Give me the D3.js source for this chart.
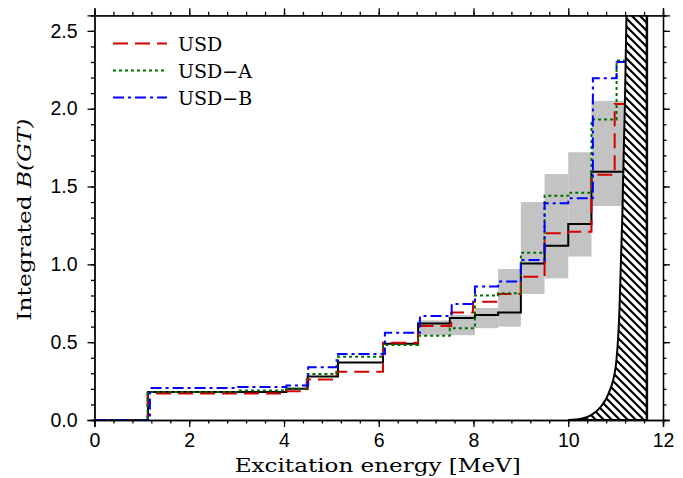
<!DOCTYPE html>
<html>
<head>
<meta charset="utf-8">
<script src="https://cdn.jsdelivr.net/npm/d3@7"></script>
<style>
  html, body { margin: 0; padding: 0; background: #fff; }
  svg { display: block; }
</style>
</head>
<body>
<svg id="chart" width="683" height="478"></svg>
<script>
// Cumulative B(GT) step functions: [energy (MeV), integrated value from there on]
const expSteps = [[0,0],[1.13,0.18],[4.05,0.20],[4.5,0.28],[5.14,0.37],[6.09,0.49],[6.83,0.62],[7.5,0.655],[8.03,0.675],[8.52,0.69],[9.0,1.005],[9.5,1.12],[10.0,1.26],[10.49,1.595],[11.18,1.595]];
const usdSteps = [[0,0],[1.12,0.17],[4.05,0.185],[4.48,0.26],[5.11,0.31],[6.09,0.497],[6.83,0.604],[7.53,0.69],[7.99,0.76],[8.52,0.81],[9.0,0.92],[9.5,1.20],[10.0,1.21],[10.49,1.575],[10.98,2.03],[11.18,2.03]];
const usdASteps = [[0,0],[1.12,0.18],[3.03,0.19],[4.05,0.20],[4.5,0.296],[5.11,0.407],[6.09,0.482],[6.83,0.542],[7.5,0.589],[8.03,0.80],[8.52,0.814],[9.0,1.075],[9.5,1.44],[10.0,1.46],[10.49,1.93],[11.02,2.31],[11.19,2.31]];
const usdBSteps = [[0,0],[1.17,0.205],[3.03,0.212],[4.05,0.222],[4.51,0.339],[5.14,0.424],[6.13,0.561],[6.87,0.668],[7.54,0.745],[8.03,0.857],[8.52,0.889],[9.0,1.028],[9.5,1.393],[10.0,1.425],[10.52,2.195],[11.02,2.30],[11.2,2.30]];

// Experimental uncertainty boxes: [E from, E to, lower, upper]
const errBoxes = [[6.83,7.5,0.545,0.64],[7.5,8.03,0.545,0.675],[8.03,8.52,0.59,0.72],[8.52,9.0,0.60,0.97],[9.0,9.5,0.81,1.40],[9.5,10.0,0.91,1.58],[10.0,10.49,1.05,1.72],[10.49,11.17,1.375,2.05]];

// Left edge of the excluded (hatched) region near the Q value, and its right edge
const limitEdge = [[10.0,0],[10.3,0.01],[10.5,0.035],[10.7,0.09],[10.85,0.17],[11.0,0.34],[11.08,0.7],[11.14,1.3],[11.2,2.1],[11.23,2.62]];
const limitRight = 11.66;

const xTicks = [0,2,4,6,8,10,12];
const yTicks = [0,0.5,1.0,1.5,2.0,2.5];

const series = [
  {name: "USD",   data: usdSteps,  color: "#d40000", dash: "15,7"},
  {name: "USD\u2212A", data: usdASteps, color: "#007000", dash: "3,3"},
  {name: "USD\u2212B", data: usdBSteps, color: "#0000ff", dash: "11,4,3,4"}
];

const svg = d3.select("#chart");
const L = 94.5, R = 663, T = 15.3, B = 420;
const x = d3.scaleLinear().domain([0, 12]).range([L, R]);
const y = d3.scaleLinear().domain([0, 2.6]).range([B, T]);

// hatch pattern
const defs = svg.append("defs");
const hs = 8;
const pat = defs.append("pattern").attr("id", "hatch").attr("patternUnits", "userSpaceOnUse")
  .attr("width", hs).attr("height", hs);
pat.append("path").attr("d", `M-1,-1 L${hs+1},${hs+1} M-${hs/2+1},${hs/2-1} L${1},${hs+1} M${hs/2-1},-${hs/2+1} L${hs+1},${1}`)
  .attr("stroke", "#000").attr("stroke-width", 2.2);
defs.append("clipPath").attr("id", "plotclip").append("rect")
  .attr("x", L).attr("y", T).attr("width", R - L).attr("height", B - T);

const plot = svg.append("g").attr("clip-path", "url(#plotclip)");

// uncertainty band
plot.selectAll("rect.err").data(errBoxes).join("rect").attr("class", "err")
  .attr("x", d => x(d[0])).attr("width", d => x(d[1]) - x(d[0]))
  .attr("y", d => y(d[3])).attr("height", d => y(d[2]) - y(d[3]))
  .attr("fill", "#c3c3c3");

// hatched region
const edgeLine = d3.line().x(d => x(d[0])).y(d => y(d[1])).curve(d3.curveMonotoneX);
const region = limitEdge.concat([[limitRight, 2.62], [limitRight, 0]]);
plot.append("path")
  .attr("d", d3.line().x(d => x(d[0])).y(d => y(d[1])).curve(d3.curveMonotoneX)(limitEdge)
    + `L${x(limitRight)},${y(2.62)}L${x(limitRight)},${y(0)}Z`)
  .attr("fill", "url(#hatch)").attr("stroke", "none");
plot.append("path").attr("d", edgeLine(limitEdge))
  .attr("fill", "none").attr("stroke", "#000").attr("stroke-width", 2);
plot.append("line").attr("x1", x(limitRight)).attr("x2", x(limitRight))
  .attr("y1", y(0)).attr("y2", y(2.62)).attr("stroke", "#000").attr("stroke-width", 2.5);
plot.append("line").attr("x1", x(10.0)).attr("x2", x(limitRight))
  .attr("y1", y(0)).attr("y2", y(0)).attr("stroke", "#000").attr("stroke-width", 2);

const stepLine = d3.line().x(d => x(d[0])).y(d => y(d[1])).curve(d3.curveStepAfter);

// experimental step
plot.append("path").attr("d", stepLine(expSteps))
  .attr("fill", "none").attr("stroke", "#000").attr("stroke-width", 2);

// shell-model steps
series.forEach(s => {
  plot.append("path").attr("d", stepLine(s.data))
    .attr("fill", "none").attr("stroke", s.color).attr("stroke-width", 2)
    .attr("stroke-dasharray", s.dash);
});

// axes
const tickFont = "'Liberation Sans', Arial, sans-serif";
function styleAxis(g) {
  g.select(".domain").attr("stroke", "#000").attr("stroke-width", 1.3);
  g.selectAll(".tick line").attr("stroke", "#000").attr("stroke-width", 1.3);
}
const xMinor = d3.range(0, 12.001, 0.4);
const yMinor = d3.range(0, 2.601, 0.1);

const gxb = svg.append("g").attr("transform", `translate(0,${B})`)
  .call(d3.axisBottom(x).tickValues(xMinor).tickSize(3.5).tickFormat(""));
styleAxis(gxb);
const gxb2 = svg.append("g").attr("transform", `translate(0,${B})`)
  .call(d3.axisBottom(x).tickValues(xTicks).tickSize(7).tickPadding(6).tickFormat(d3.format("d")));
styleAxis(gxb2);
gxb2.selectAll("text").attr("font-family", tickFont).attr("font-size", 19.5).attr("fill", "#000");

const gxt = svg.append("g").attr("transform", `translate(0,${T})`)
  .call(d3.axisTop(x).tickValues(xMinor).tickSize(3.5).tickFormat(""));
styleAxis(gxt);
const gxt2 = svg.append("g").attr("transform", `translate(0,${T})`)
  .call(d3.axisTop(x).tickValues(xTicks).tickSize(7).tickFormat(""));
styleAxis(gxt2);

const gyl = svg.append("g").attr("transform", `translate(${L},0)`)
  .call(d3.axisLeft(y).tickValues(yMinor).tickSize(3.5).tickFormat(""));
styleAxis(gyl);
const gyl2 = svg.append("g").attr("transform", `translate(${L},0)`)
  .call(d3.axisLeft(y).tickValues(yTicks).tickSize(7).tickPadding(10).tickFormat(d3.format(".1f")));
styleAxis(gyl2);
gyl2.selectAll("text").attr("font-family", tickFont).attr("font-size", 19.5).attr("fill", "#000");

const gyr = svg.append("g").attr("transform", `translate(${R},0)`)
  .call(d3.axisRight(y).tickValues(yMinor).tickSize(3.5).tickFormat(""));
styleAxis(gyr);
const gyr2 = svg.append("g").attr("transform", `translate(${R},0)`)
  .call(d3.axisRight(y).tickValues(yTicks).tickSize(7).tickFormat(""));
styleAxis(gyr2);

// axis titles
const titleFont = "'DejaVu Serif', 'Liberation Serif', serif";
svg.append("text").attr("x", (L + R) / 2 - 1).attr("y", 472)
  .attr("text-anchor", "middle").attr("font-family", titleFont).attr("font-size", 19)
  .attr("textLength", 286).attr("lengthAdjust", "spacingAndGlyphs")
  .text("Excitation energy [MeV]");

const yt = svg.append("text").attr("transform", `translate(31,${(T + B) / 2 + 2}) rotate(-90)`)
  .attr("text-anchor", "middle").attr("font-family", titleFont).attr("font-size", 19)
  .attr("textLength", 202).attr("lengthAdjust", "spacingAndGlyphs");
yt.append("tspan").text("Integrated  ");
yt.append("tspan").attr("font-style", "italic").text("B(GT)");

// legend
const legend = svg.append("g");
series.forEach((s, i) => {
  const ly = 43.5 + i * 27;
  legend.append("line").attr("x1", 113).attr("x2", 167).attr("y1", ly).attr("y2", ly)
    .attr("stroke", s.color).attr("stroke-width", 2).attr("stroke-dasharray", s.dash);
  legend.append("text").attr("x", 178).attr("y", ly + 7).attr("font-family", titleFont)
    .attr("font-size", 19).attr("fill", "#000").text(s.name);
});
</script>
</body>
</html>
